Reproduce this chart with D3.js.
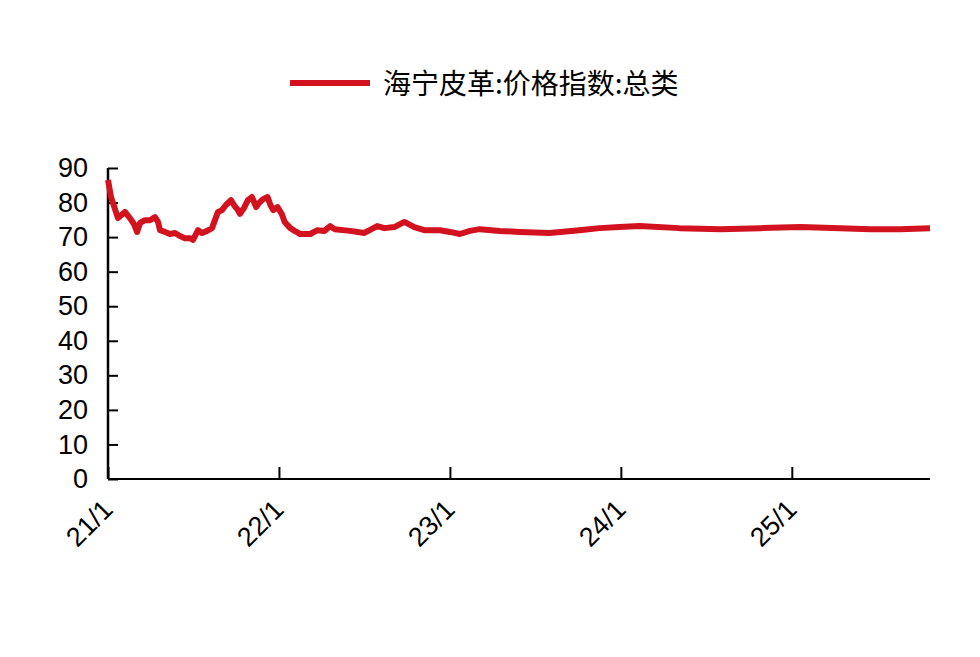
<!DOCTYPE html>
<html><head><meta charset="utf-8">
<script src="https://cdn.jsdelivr.net/npm/d3@7"></script>
<style>body{margin:0;background:#fff}</style>
</head><body><div id="chart"></div>
<script>
// months since 2021-01
const months = [0,0.21,0.70,1.19,1.54,1.82,2.04,2.25,2.60,2.95,3.30,3.51,3.65,4.0,4.35,4.70,5.05,5.40,5.75,5.97,6.32,6.60,6.95,7.30,7.72,8.0,8.28,8.63,8.84,9.12,9.26,9.54,9.82,10.1,10.4,10.6,10.9,11.2,11.4,11.6,11.9,12.2,12.4,12.8,13.1,13.5,14.2,14.7,15.2,15.6,15.9,17.0,18.0,18.5,18.9,19.4,20.1,20.8,21.5,22.2,23.3,24.0,24.7,25.4,26.1,27.5,28.9,31.0,33.1,34.5,35.9,37.3,40.1,43.0,45.8,48.6,51.4,53.5,55.6,57.7];
const values = [86.5,81.6,75.5,77.3,75.5,73.8,71.5,74.1,74.9,74.9,75.8,74.4,72.0,71.5,70.9,71.2,70.3,69.7,69.7,69.2,72.0,71.2,71.8,72.6,77.3,77.8,79.3,80.7,79.3,77.8,76.7,78.4,80.7,81.6,78.7,79.9,81.0,81.6,79.3,77.8,78.7,76.7,74.4,72.6,71.8,70.9,70.9,72.0,71.8,73.2,72.3,71.8,71.2,72.3,73.2,72.6,72.9,74.4,72.9,72.0,72.0,71.5,70.9,71.8,72.3,71.8,71.5,71.2,72.0,72.6,72.9,73.2,72.6,72.3,72.6,72.9,72.6,72.3,72.3,72.6];
const yTicks = [0,10,20,30,40,50,60,70,80,90];
const xTickLabels = ["21/1","22/1","23/1","24/1","25/1"];
const seriesName = "海宁皮革:价格指数:总类";

const W = 980, H = 657;
const svg = d3.select("#chart").append("svg").attr("width", W).attr("height", H);

const x = d3.scaleLinear().domain([0, 57.7]).range([108, 930]);
const y = d3.scaleLinear().domain([0, 90]).range([479, 168]);
const font = "'Liberation Sans', Arial, sans-serif";

// y axis, ticks pointing inward
const ya = svg.append("g").attr("transform", "translate(108,0)")
  .call(d3.axisLeft(y).tickValues(yTicks).tickSize(-10).tickPadding(20));
ya.select(".domain").attr("stroke", "#000").attr("stroke-width", 2.5).attr("d", "M0,168V479");
ya.selectAll(".tick line").attr("stroke-width", 2);
ya.selectAll("text").style("font", `27px ${font}`).attr("fill", "#000");

// x axis
const xa = svg.append("g").attr("transform", "translate(0,479)")
  .call(d3.axisBottom(x).tickValues(xTickLabels.map((d, i) => i * 12)).tickSize(-12).tickFormat((d, i) => xTickLabels[i]));
xa.select(".domain").attr("stroke", "#000").attr("stroke-width", 2).attr("d", "M108,0H930");
xa.selectAll(".tick line").attr("stroke-width", 2);
xa.selectAll("text").style("font", `27px ${font}`).attr("fill", "#000")
  .attr("text-anchor", "end").attr("dy", 0).attr("y", 0).attr("transform", "translate(6,32) rotate(-45)");

// series line
const pts = months.map((m, i) => [m, values[i]]);
svg.append("path").datum(pts)
  .attr("fill", "none").attr("stroke", "#d2121e").attr("stroke-width", 6).attr("stroke-linejoin", "round")
  .attr("d", d3.line().x(d => x(d[0])).y(d => y(d[1])));

// legend
svg.append("line").attr("x1", 290).attr("x2", 370).attr("y1", 83).attr("y2", 83)
  .attr("stroke", "#d2121e").attr("stroke-width", 6);
svg.append("text").attr("x", 383).attr("y", 94).text(seriesName)
  .style("font", "28px 'Noto Sans CJK SC', sans-serif").attr("fill", "#000");
</script></body></html>
